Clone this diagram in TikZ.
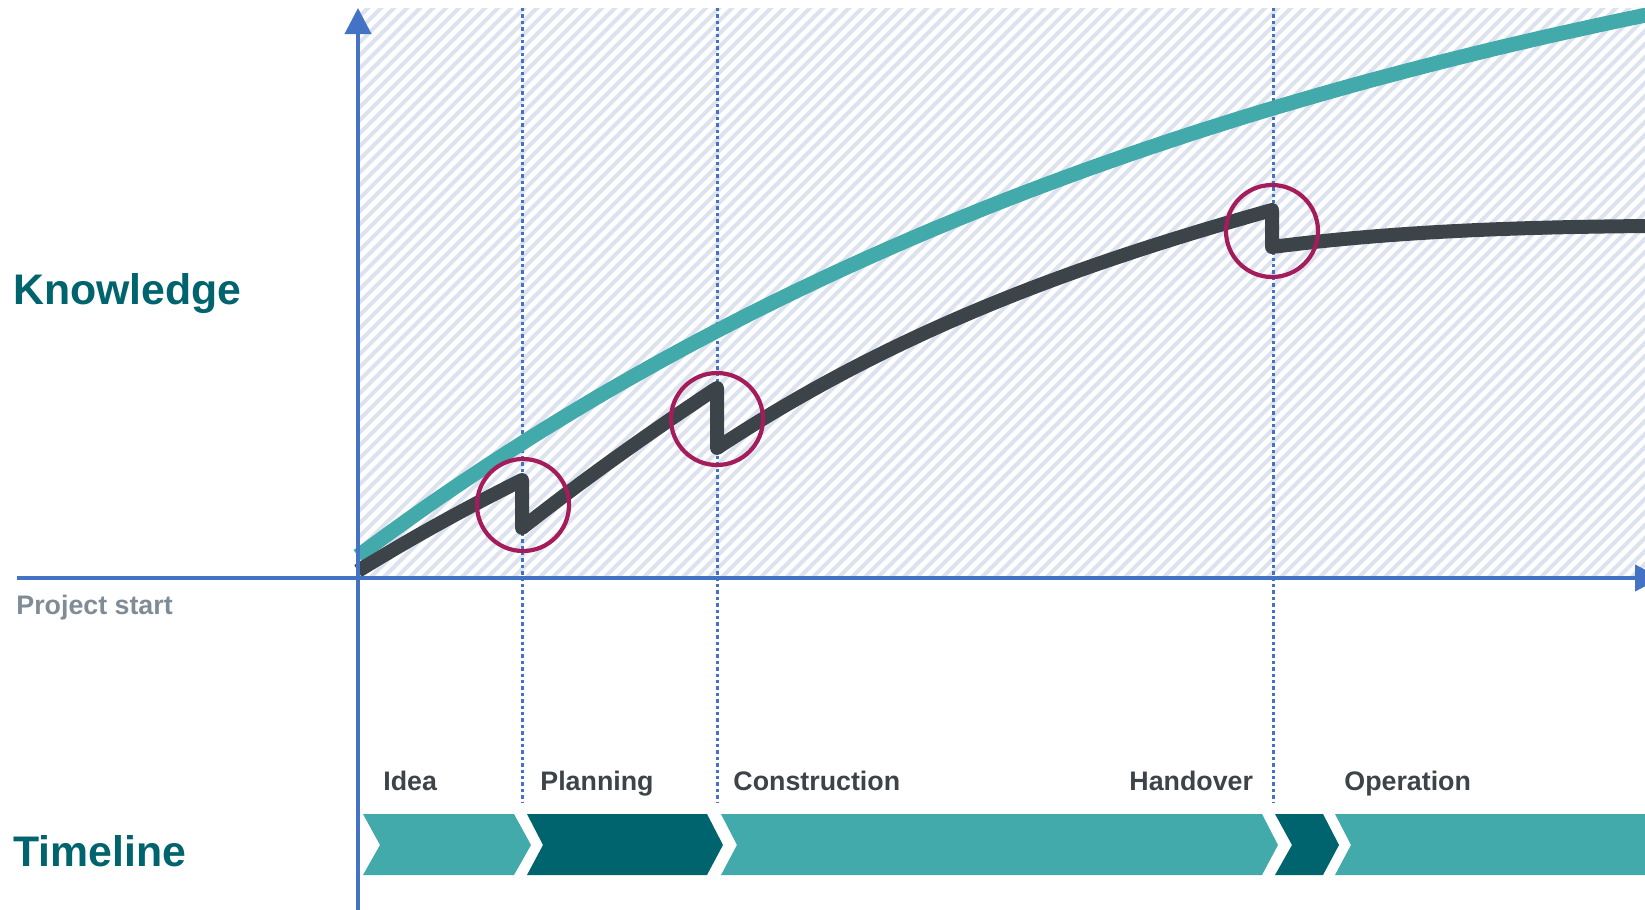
\documentclass[tikz,border=0pt]{standalone}
\usepackage{fontspec}
\setmainfont{Liberation Sans}
\usetikzlibrary{arrows.meta}
\definecolor{axisblue}{HTML}{4472C4}
\definecolor{tealL}{HTML}{42AAAA}
\definecolor{tealD}{HTML}{00646E}
\definecolor{curvegrey}{HTML}{3C4449}
\definecolor{ring}{HTML}{A51C5B}
\definecolor{hatchc}{HTML}{DCE3EE}
\definecolor{startgrey}{HTML}{7F8C96}
\tikzset{
  axisline/.style={draw=axisblue, line width=2pt, -{Triangle[width=13pt,length=13pt]}},
  hatchline/.style={draw=hatchc, line width=2.1pt},
  phaseline/.style={draw=axisblue, line width=1.5pt, dash pattern=on 1.7pt off 1.5pt},
  knowc/.style={draw=tealL, line width=7.4pt},
  realc/.style={draw=curvegrey, line width=7pt, line join=round},
  ringc/.style={draw=ring, line width=2.1pt},
  chevL/.style={fill=tealL},
  chevD/.style={fill=tealD},
  biglabel/.style={text=tealD, font=\fontsize{21.4pt}{25pt}\selectfont\bfseries, inner sep=0pt, anchor=base west},
  phaselabel/.style={text=curvegrey, font=\fontsize{13.4pt}{15pt}\selectfont\bfseries, inner sep=0pt, anchor=base west},
  startlabel/.style={text=startgrey, font=\fontsize{13.4pt}{15pt}\selectfont\bfseries, inner sep=0pt, anchor=base west}
}
\begin{document}
\begin{tikzpicture}[x=0.5pt,y=-0.5pt]
\useasboundingbox (0,0) rectangle (1645,910);
\clip (0,0) rectangle (1645,910);
% hatched area
\begin{scope}
\clip (358,8) rectangle (1645,578);
\foreach \k in {0,...,146} {
  \draw[hatchline] ({358-575+\k*13},580) -- ++(575,-575);
}
\end{scope}
% coordinates
\coordinate (yb) at (358,910);
\coordinate (yt) at (358,8);
\coordinate (xl) at (17,578);
\coordinate (xr) at (1661,578);
\coordinate (p1t) at (522,8); \coordinate (p1b) at (522,802);
\coordinate (p2t) at (717,8); \coordinate (p2b) at (717,802);
\coordinate (p3t) at (1273,8); \coordinate (p3b) at (1273,802);
% phase lines
\draw[phaseline] (p1t) -- (p1b);
\draw[phaseline] (p2t) -- (p2b);
\draw[phaseline] (p3t) -- (p3b);
% knowledge curve
\draw[knowc] plot[domain=358:1650, samples=80, smooth] (\x, {556-747*(1-exp(-(\x-358)/1000))});
% real curve
\coordinate (d0) at (358,571);
\coordinate (d1) at (522,480);
\coordinate (d1b) at (522,528);
\coordinate (d2) at (717,388);
\coordinate (d2b) at (717,448);
\coordinate (d3) at (1272,210);
\coordinate (d3b) at (1272,247);
\coordinate (d4) at (1650,226);
\draw[realc] (d0) .. controls (413,537) and (467,507.5) .. (d1) -- (d1b)
  .. controls (587,477) and (652,431) .. (d2) -- (d2b)
  .. controls (902,326) and (1087,262) .. (d3) -- (d3b)
  .. controls (1396,231) and (1521,227) .. (d4);
% rings
\node[circle, ringc, minimum size=46pt, inner sep=0pt] (r1) at (523,505) {};
\node[circle, ringc, minimum size=46pt, inner sep=0pt] (r2) at (717,419) {};
\node[circle, ringc, minimum size=46pt, inner sep=0pt] (r3) at (1272,231) {};
% axes
\draw[axisline] (yb) -- (yt);
\draw[axisline] (xl) -- (xr);
% labels
\node[biglabel] (know) at (13,304) {Knowledge};
\node[biglabel] (time) at (13,866) {Timeline};
\node[startlabel] (start) at (16,614) {Project start};
\node[phaselabel] (idea) at (383,790) {Idea};
\node[phaselabel] (plan) at (540,790) {Planning};
\node[phaselabel] (cons) at (733,790) {Construction};
\node[phaselabel] (hand) at (1129,790) {Handover};
\node[phaselabel] (oper) at (1344,790) {Operation};
% chevrons
\path[chevL] (363,814) -- (514,814) -- (531,845) -- (514,875) -- (363,875) -- (380,845) -- cycle;
\path[chevD] (527,814) -- (707,814) -- (723,845) -- (707,875) -- (527,875) -- (543,845) -- cycle;
\path[chevL] (721,814) -- (1262,814) -- (1278,845) -- (1262,875) -- (721,875) -- (737,845) -- cycle;
\path[chevD] (1275,814) -- (1323,814) -- (1339,845) -- (1323,875) -- (1275,875) -- (1292,845) -- cycle;
\path[chevL] (1335,814) -- (1645,814) -- (1645,875) -- (1335,875) -- (1351,845) -- cycle;
\end{tikzpicture}
\end{document}
